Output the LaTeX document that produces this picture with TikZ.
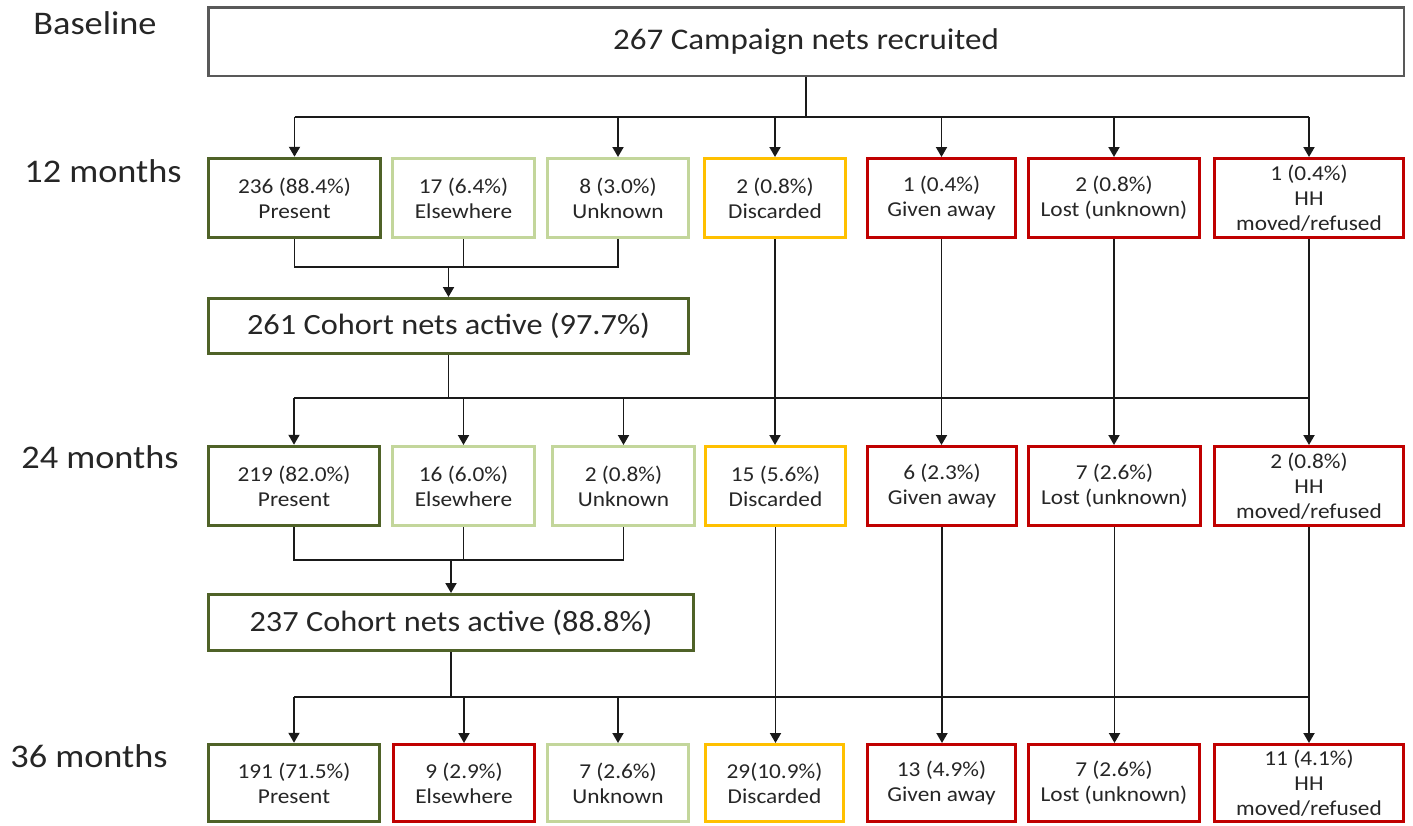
\documentclass[tikz,border=0pt]{standalone}
\usepackage{fontspec}
\setmainfont{Carlito}[FakeStretch=1.1]
\usetikzlibrary{arrows.meta}
\definecolor{dkgreen}{HTML}{4F6228}
\definecolor{ltgreen}{HTML}{C3D69B}
\definecolor{amber}{HTML}{FFC000}
\definecolor{dred}{HTML}{C00000}
\definecolor{txt}{HTML}{262626}
\definecolor{conn}{HTML}{1A1A1A}
\definecolor{topgray}{HTML}{595959}
\begin{document}
\begin{tikzpicture}[x=0.5pt,y=-0.5pt,
  every node/.style={text=txt, inner sep=0pt},
  cbox/.style={draw, line width=1.5pt, fill=white, align=center,
    font=\fontsize{10.6}{12.5}\selectfont},
  r1/.style={cbox, minimum height=39.5pt},
  r2/.style={cbox, minimum height=39.5pt},
  r3/.style={cbox, minimum height=38.5pt},
  pres/.style={draw=dkgreen},
  light/.style={draw=ltgreen},
  disc/.style={draw=amber},
  lostc/.style={draw=dred},
  cohort/.style={draw=dkgreen, line width=1.5pt, fill=white, font=\fontsize{14.7}{18}\selectfont},
  topbox/.style={draw=topgray, line width=1.25pt, fill=white, font=\fontsize{15}{18}\selectfont},
  lbl/.style={font=\fontsize{16.5}{20}\selectfont, anchor=base},
  conline/.style={draw=conn, line width=0.95pt},
  arr/.style={conline, -{Triangle[length=5pt,width=5.5pt]}}
]
\fill[white] (0,0) rectangle (1413,825);
\useasboundingbox (0,0) rectangle (1413,825);

% row labels
\node[lbl] (lb0) at (95,34) {Baseline};
\node[lbl] (lb1) at (103,182) {12 months};
\node[lbl] (lb2) at (100,468) {24 months};
\node[lbl] (lb3) at (89,767) {36 months};

% top box
\node[topbox, minimum width=597.75pt, minimum height=34.25pt] (top) at (806,41.5) {267 Campaign nets recruited};

% row 1 (12 months)
\node[r1, pres,  line width=1.75pt, minimum width=86pt]   (r1p) at (294.5,198) {236 (88.4\%)\\Present};
\node[r1, light, minimum width=71pt]   (r1e) at (463.5,198) {17 (6.4\%)\\Elsewhere};
\node[r1, light, minimum width=70.5pt] (r1u) at (618,198)   {8 (3.0\%)\\Unknown};
\node[r1, disc,  minimum width=70.5pt] (r1d) at (775,198)   {2 (0.8\%)\\Discarded};
\node[r1, lostc, minimum width=74pt]   (r1g) at (941.5,198) {1 (0.4\%)\\Given away};
\node[r1, lostc, minimum width=85.5pt] (r1l) at (1114,198)  {2 (0.8\%)\\Lost (unknown)};
\node[r1, lostc, minimum width=94.5pt] (r1h) at (1309,198)  {1 (0.4\%)\\HH\\moved/refused};

\node[cohort, minimum width=240pt, minimum height=27.5pt] (c1) at (448.5,326) {261 Cohort nets active (97.7\%)};

% row 2 (24 months)
\node[r2, pres,  line width=1.75pt, minimum width=85.5pt] (r2p) at (294,486)    {219 (82.0\%)\\Present};
\node[r2, light, minimum width=71pt]   (r2e) at (463.5,486)  {16 (6.0\%)\\Elsewhere};
\node[r2, light, minimum width=71pt]   (r2u) at (623.5,486)  {2 (0.8\%)\\Unknown};
\node[r2, disc,  minimum width=70pt]   (r2d) at (775.5,486)  {15 (5.6\%)\\Discarded};
\node[r2, lostc, minimum width=74.5pt] (r2g) at (942,486)    {6 (2.3\%)\\Given away};
\node[r2, lostc, minimum width=86pt]   (r2l) at (1114.5,486) {7 (2.6\%)\\Lost (unknown)};
\node[r2, lostc, minimum width=94.5pt] (r2h) at (1309,486)   {2 (0.8\%)\\HH\\moved/refused};

\node[cohort, minimum width=242.5pt, minimum height=28pt] (c2) at (451,622.5) {237 Cohort nets active (88.8\%)};

% row 3 (36 months)
\node[r3, pres,  line width=1.75pt, minimum width=85.5pt] (r3p) at (294,783)    {191 (71.5\%)\\Present};
\node[r3, lostc, minimum width=70.5pt] (r3e) at (464,783)    {9 (2.9\%)\\Elsewhere};
\node[r3, light, minimum width=70.5pt] (r3u) at (618,783)    {7 (2.6\%)\\Unknown};
\node[r3, disc,  minimum width=69pt]   (r3d) at (774.5,783)  {29(10.9\%)\\Discarded};
\node[r3, lostc, minimum width=74pt]   (r3g) at (941.5,783)  {13 (4.9\%)\\Given away};
\node[r3, lostc, minimum width=85.5pt] (r3l) at (1114,783)   {7 (2.6\%)\\Lost (unknown)};
\node[r3, lostc, minimum width=94.5pt] (r3h) at (1309,783)   {11 (4.1\%)\\HH\\moved/refused};

% ---- connectors: baseline -> 12 months
\coordinate (j0) at (806,117);
\draw[conline] (top.south) -- (j0);
\draw[conline] (r1p.north |- j0) -- (r1h.north |- j0);
\foreach \n in {r1p,r1u,r1d,r1g,r1l,r1h}
  \draw[arr] (\n.north |- j0) -- (\n.north);

% merge 12 months -> cohort 1
\coordinate (m1) at (448.5,267);
\draw[conline] (r1p.south) -- (r1p.south |- m1) -- (r1u.south |- m1) -- (r1u.south);
\draw[conline] (r1e.south) -- (r1e.south |- m1);
\draw[arr] (m1) -- (c1.north);

% cohort 1 -> 24 months
\coordinate (j1) at (448.5,398);
\draw[conline] (c1.south) -- (j1);
\draw[conline] (r2p.north |- j1) -- (r1h.south |- j1);
\foreach \n in {r2p,r2e,r2u}
  \draw[arr] (\n.north |- j1) -- (\n.north);
\foreach \a/\b in {r1d/r2d,r1g/r2g,r1l/r2l,r1h/r2h}
  \draw[arr] (\a.south) -- (\a.south |- \b.north);

% merge 24 months -> cohort 2
\coordinate (m2) at (451,560);
\draw[conline] (r2p.south) -- (r2p.south |- m2) -- (r2u.south |- m2) -- (r2u.south);
\draw[conline] (r2e.south) -- (r2e.south |- m2);
\draw[arr] (m2) -- (c2.north);

% cohort 2 -> 36 months
\coordinate (j2) at (451,697);
\draw[conline] (c2.south) -- (j2);
\draw[conline] (r3p.north |- j2) -- (r2h.south |- j2);
\foreach \n in {r3p,r3e,r3u}
  \draw[arr] (\n.north |- j2) -- (\n.north);
\foreach \a/\b in {r2d/r3d,r2g/r3g,r2l/r3l,r2h/r3h}
  \draw[arr] (\a.south) -- (\a.south |- \b.north);
\end{tikzpicture}
\end{document}
